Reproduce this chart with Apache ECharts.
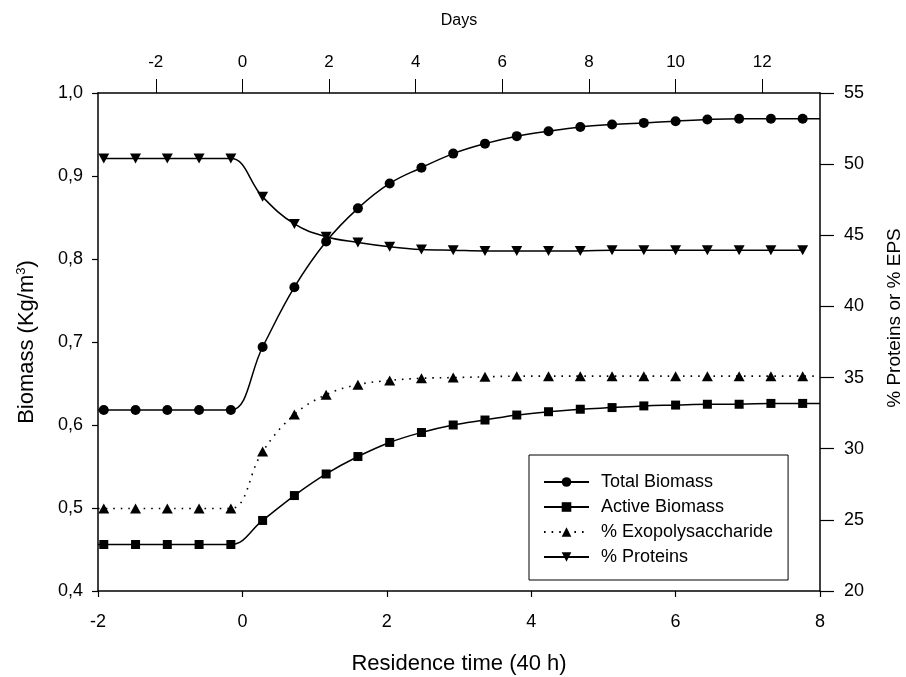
<!DOCTYPE html>
<html>
<head>
<meta charset="utf-8">
<script src="https://cdn.jsdelivr.net/npm/echarts@6/dist/echarts.min.js"></script>
<style>html,body{margin:0;padding:0;background:#fff;}#chart{width:906px;height:677px;}</style>
</head>
<body>
<div id="chart"></div>
<script>
// Residence time (units of 40 h) of each sample
const residenceTime = [-1.92,-1.48,-1.04,-0.60,-0.16,0.28,0.72,1.16,1.60,2.04,2.48,2.92,3.36,3.80,4.24,4.68,5.12,5.56,6.00,6.44,6.88,7.32,7.76];
// Left axis: Biomass (Kg/m3)
const totalBiomass  = [0.618,0.618,0.618,0.618,0.618,0.694,0.766,0.821,0.861,0.891,0.910,0.927,0.939,0.948,0.954,0.959,0.962,0.964,0.966,0.968,0.969,0.969,0.969];
const activeBiomass = [0.456,0.456,0.456,0.456,0.456,0.485,0.515,0.541,0.562,0.579,0.591,0.600,0.606,0.612,0.616,0.619,0.621,0.623,0.624,0.625,0.625,0.626,0.626];
// Right axis: % Proteins or % EPS
const exoPct     = [25.8,25.8,25.8,25.8,25.8,29.8,32.4,33.8,34.5,34.8,34.95,35.0,35.05,35.1,35.1,35.1,35.1,35.1,35.1,35.1,35.1,35.1,35.1];
const proteinPct = [50.4,50.4,50.4,50.4,50.4,47.7,45.8,44.9,44.5,44.2,44.0,43.95,43.9,43.9,43.9,43.9,43.95,43.95,43.95,43.95,43.95,43.95,43.95];
// Fitted curve end points (no marker) at the axis limits
const curveEndX   = [-2, 8];
const totalEnds   = [0.618, 0.969];
const activeEnds  = [0.456, 0.626];
const exoEnds     = [25.8, 35.1];
// Tick labels
const dayTicks = [-2,0,2,4,6,8,10,12];
const hoursPerRT = 40, hoursPerDay = 24;

function build(vals, ends) {
  const d = residenceTime.map((t, i) => [t, vals[i]]);
  if (ends) {
    d.unshift({ value: [curveEndX[0], ends[0]], symbol: 'none' });
    d.push({ value: [curveEndX[1], ends[1]], symbol: 'none' });
  }
  return d;
}
const FONT = 'Liberation Sans, Arial, sans-serif';
const downTri = 'path://M0,0 L12,0 L6,10 Z';
const upTri = 'path://M6,0 L12,10 L0,10 Z';
const axisLine = { show: true, onZero: false, lineStyle: { color: '#000', width: 1.5 } };

const chart = echarts.init(document.getElementById('chart'), null, { renderer: 'canvas' });
chart.setOption({
  backgroundColor: '#fff',
  animation: false,
  grid: { left: 98, right: 86, top: 93, bottom: 86, containLabel: false, outerBoundsMode: 'none' },
  xAxis: [
    {
      type: 'value', position: 'bottom', min: -2, max: 8, interval: 2,
      name: 'Residence time (40 h)', nameLocation: 'middle', nameGap: 62,
      nameTextStyle: { fontFamily: FONT, fontSize: 22, color: '#000' },
      axisLine, splitLine: { show: false },
      axisTick: { show: true, inside: false, length: 6, lineStyle: { color: '#000', width: 1.2 } },
      axisLabel: { fontFamily: FONT, fontSize: 18, color: '#000', margin: 22 }
    },
    {
      type: 'value', position: 'top',
      min: -2 * hoursPerRT / hoursPerDay, max: 8 * hoursPerRT / hoursPerDay,
      name: 'Days', nameLocation: 'middle', nameGap: 64,
      nameTextStyle: { fontFamily: FONT, fontSize: 16, color: '#000' },
      axisLine, splitLine: { show: false },
      axisTick: { show: true, inside: false, length: 14, customValues: dayTicks, lineStyle: { color: '#000', width: 1 } },
      axisLabel: { fontFamily: FONT, fontSize: 17, color: '#000', margin: 22, customValues: dayTicks }
    }
  ],
  yAxis: [
    {
      type: 'value', position: 'left', min: 0.4, max: 1.0, interval: 0.1,
      name: 'Biomass (Kg/m{sup|3})', nameLocation: 'middle', nameGap: 60, nameRotate: 90,
      nameTextStyle: { fontFamily: FONT, fontSize: 22, color: '#000', rich: { sup: { fontFamily: FONT, fontSize: 13, verticalAlign: 'top', padding: [0, 0, 10, 0] } } },
      axisLine, splitLine: { show: false },
      axisTick: { show: true, inside: false, length: 6, lineStyle: { color: '#000', width: 1.2 } },
      axisLabel: { fontFamily: FONT, fontSize: 18, color: '#000', margin: 15, formatter: v => v.toFixed(1).replace('.', ',') }
    },
    {
      type: 'value', position: 'right', min: 20, max: 55, interval: 5,
      name: '% Proteins or % EPS', nameLocation: 'middle', nameGap: 65, nameRotate: 90,
      nameTextStyle: { fontFamily: FONT, fontSize: 19, color: '#000', padding: [0, 0, 0, 48] },
      axisLine, splitLine: { show: false },
      axisTick: { show: true, inside: false, length: 14, lineStyle: { color: '#000', width: 1.2 } },
      axisLabel: { fontFamily: FONT, fontSize: 18, color: '#000', margin: 24 }
    }
  ],
  legend: {
    orient: 'vertical', left: 529, top: 455,
    width: 273,
    backgroundColor: '#fff',
    borderColor: '#000', borderWidth: 1, borderRadius: 0,
    padding: [16, 15, 12, 14],
    itemWidth: 45, itemHeight: 12, itemGap: 3,
    textStyle: { fontFamily: FONT, fontSize: 18, color: '#000', lineHeight: 22, padding: [0, 0, 0, 7] },
    data: ['Total Biomass', 'Active Biomass', '% Exopolysaccharide', '% Proteins']
  },
  series: [
    {
      name: 'Total Biomass', type: 'line', xAxisIndex: 0, yAxisIndex: 0,
      data: build(totalBiomass, totalEnds), smooth: 0.4,
      symbol: 'circle', symbolSize: 10, showAllSymbol: true,
      lineStyle: { color: '#000', width: 1.5 }, itemStyle: { color: '#000' }
    },
    {
      name: 'Active Biomass', type: 'line', xAxisIndex: 0, yAxisIndex: 0,
      data: build(activeBiomass, activeEnds), smooth: 0.4,
      symbol: 'rect', symbolSize: 9, showAllSymbol: true,
      lineStyle: { color: '#000', width: 1.5 }, itemStyle: { color: '#000' }
    },
    {
      name: '% Exopolysaccharide', type: 'line', xAxisIndex: 0, yAxisIndex: 1,
      data: build(exoPct, exoEnds), smooth: 0.4,
      symbol: upTri, symbolSize: [11, 10], showAllSymbol: true,
      lineStyle: { color: '#000', width: 1.6, type: [1.6, 6] }, itemStyle: { color: '#000' }
    },
    {
      name: '% Proteins', type: 'line', xAxisIndex: 0, yAxisIndex: 1,
      data: build(proteinPct, null), smooth: 0.4,
      symbol: downTri, symbolSize: [11, 10], showAllSymbol: true,
      lineStyle: { color: '#000', width: 1.5 }, itemStyle: { color: '#000' }
    }
  ]
});
</script>
</body>
</html>
